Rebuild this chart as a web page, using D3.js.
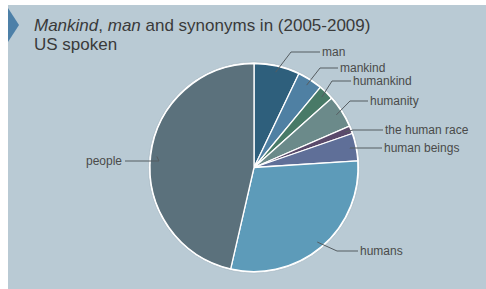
<!DOCTYPE html>
<html>
<head>
<meta charset="utf-8">
<script src="https://cdn.jsdelivr.net/npm/d3@7"></script>
<style>
  html, body { margin: 0; padding: 0; background: #ffffff; }
  svg { display: block; }
</style>
</head>
<body>
<svg id="chart" width="486" height="289"></svg>
<script>
// ---- data ----
const categories = ["man", "mankind", "humankind", "humanity", "the human race", "human beings", "humans", "people"];
const shares = [7.1, 3.9, 2.4, 5.1, 1.2, 4.3, 29.6, 46.4];
const sliceColors = ["#2e5f7c", "#4f80a3", "#487a67", "#6b8a8a", "#5a4a6b", "#5f6f98", "#5d9bb9", "#5b717c"];

// ---- layout (label anchors, not data) ----
const labelAnchors = [
  [322, 52], [340, 68], [353, 81], [370, 101],
  [385, 130], [384, 148], [360, 251], [122, 161]
];
const elbowLen = [29, 18, 19, 18, 30, 32, 21, 34];

const W = 486, H = 289;
const svg = d3.select("#chart");

// panel
svg.append("rect").attr("x", 8).attr("y", 5).attr("width", W - 8).attr("height", H - 5)
  .attr("fill", "#b9cad4");
svg.append("polygon").attr("points", "8,8 19,25 8,42").attr("fill", "#4d80a8");

// title
const title = svg.append("text").attr("x", 34).attr("y", 31)
  .attr("font-family", "Liberation Sans, Arial, sans-serif").attr("font-size", 17).attr("fill", "#3a3a3a");
title.append("tspan").attr("font-style", "italic").text("Mankind");
title.append("tspan").text(", ");
title.append("tspan").attr("font-style", "italic").text("man");
title.append("tspan").text(" and synonyms in (2005-2009)");
svg.append("text").attr("x", 34).attr("y", 50)
  .attr("font-family", "Liberation Sans, Arial, sans-serif").attr("font-size", 17).attr("fill", "#3a3a3a")
  .text("US spoken");

// pie
const cx = 254, cy = 167.5, R = 104;
const g = svg.append("g").attr("transform", `translate(${cx},${cy})`);
const pie = d3.pie().sort(null).value(d => d.v);
const data = pie(categories.map((c, i) => ({ c, v: shares[i], col: sliceColors[i] })));
const arc = d3.arc().innerRadius(0).outerRadius(R);

g.append("circle").attr("r", R + 1.5).attr("fill", "#ffffff").attr("stroke", "#9fb2bd").attr("stroke-width", 0.6);
g.selectAll("path.slice").data(data).join("path").attr("class", "slice")
  .attr("d", arc).attr("fill", d => d.data.col)
  .attr("stroke", "#ffffff").attr("stroke-width", 1.3).attr("stroke-linejoin", "round");

// leaders and labels
const inner = d3.arc().innerRadius(R * 0.94).outerRadius(R * 0.94);
data.forEach((d, i) => {
  const [sx, sy] = inner.centroid(d);
  const [lx, ly] = labelAnchors[i];
  const isLeft = i === categories.length - 1;
  const ex = isLeft ? lx + 3 + elbowLen[i] : lx - 2 - elbowLen[i];
  const tx = isLeft ? lx + 3 : lx - 2;
  svg.append("path")
    .attr("d", `M${cx + sx},${cy + sy} L${ex},${ly} L${tx},${ly}`)
    .attr("fill", "none").attr("stroke", "#555c60").attr("stroke-width", 1);
  svg.append("text").attr("x", lx).attr("y", ly).attr("dy", "0.35em")
    .attr("text-anchor", isLeft ? "end" : "start")
    .attr("font-family", "Liberation Sans, Arial, sans-serif").attr("font-size", 12)
    .attr("fill", "#4a4a4a").text(d.data.c);
});
</script>
</body>
</html>
